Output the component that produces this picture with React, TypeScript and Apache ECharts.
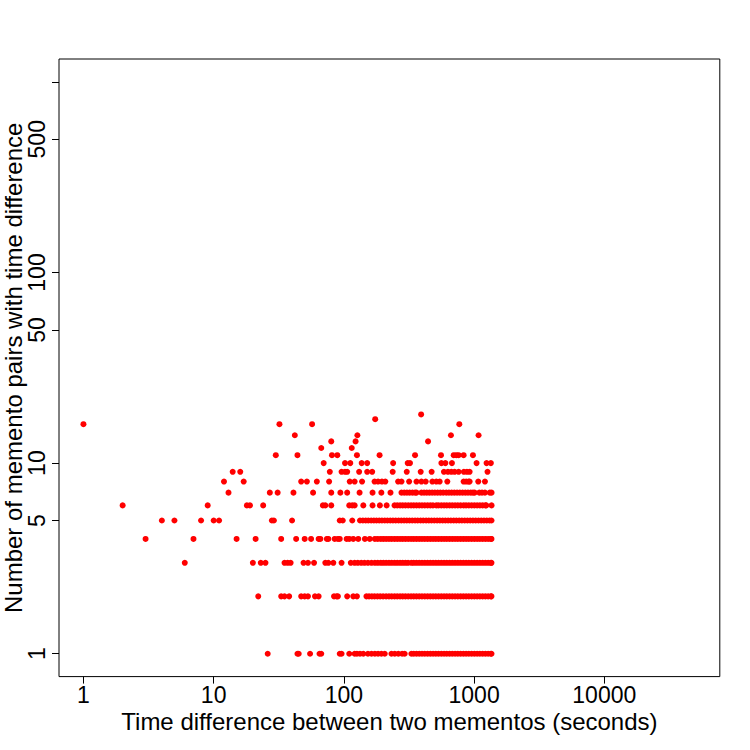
import React, { useEffect, useRef } from "react";
import * as echarts from "echarts";

// Tick positions / labels
const X_TICKS = [1, 10, 100, 1000, 10000];
const Y_TICKS = [1, 5, 10, 50, 100, 500, 1000];
const Y_LABELS = [1, 5, 10, 50, 100, 500];

// Axis limits (R style: 4% extension of xlim = c(1, 50000), ylim = c(1, 1000) in log space)
const X_MIN = 0.649;
const X_MAX = 77090;
const Y_MIN = 0.7586;
const Y_MAX = 1318.3;

// Time differences (seconds) observed for each count of memento pairs
const secsCount1 = [26, 44, 45, 55, 65, 67, 93, 96, 110, 121, 126, 133, 141, 153, 163, 173, 183, 194, 206, 232, 246, 262, 280, 293,
  330, 344, 361, 379, 398, 418, 439, 461, 484, 508, 533, 560, 588, 617, 648, 680, 714, 750, 788, 827, 868, 911, 957, 1005, 1055, 1108, 1163, 1221, 1282, 1346, 1360];
const secsCount2 = [22, 33, 35, 38, 47, 50, 53, 60, 64, 84, 88, 90, 106, 118, 126,
  149, 156, 164, 172, 181, 190, 200, 211, 222, 233, 245, 257, 270, 283, 297, 312, 328, 344, 361, 379, 398, 418, 439, 461, 484, 508, 533, 560, 588, 617, 648, 680, 714, 750, 788, 827, 868, 911, 957, 1005, 1055, 1108, 1163, 1221, 1282, 1346, 1360];
const secsCount3 = [6, 20, 23, 25, 35, 37, 39, 49, 53, 59, 72, 76, 83, 96, 113, 121, 128, 136, 144, 153, 163,
  173, 182, 192, 201, 211, 222, 233, 245, 257, 270, 283, 297, 311,
  330, 344, 361, 379, 398, 418, 439, 461, 484, 508, 533, 560, 588, 617, 648, 680, 714, 750, 788, 827, 868, 911, 957, 1005, 1055, 1108, 1163, 1221, 1282, 1346, 1360];
const secsCount4 = [3, 7, 15, 21, 33, 43, 50, 56, 64, 66, 74, 76, 85, 90, 93, 105, 110, 118, 129, 145, 158,
  173, 182, 192, 201, 211, 222, 233, 245, 257, 270, 283, 297, 312, 328, 344, 361, 379, 398, 418, 439, 461, 484, 508, 533, 560, 588, 617, 648, 680, 714, 750, 788, 827, 868, 911, 957, 1005, 1055, 1108, 1163, 1221, 1282, 1346, 1360];
const secsCount5 = [4, 5, 8, 10, 11, 28, 29, 40, 93, 98, 116,
  133, 140, 147, 154, 162, 170, 178, 187, 196, 206, 216, 227, 238, 250, 263, 276, 290, 304, 319, 335, 352, 369, 388, 407, 428, 449, 471, 495, 520, 546, 573, 602, 632, 663, 697, 731, 768, 806, 847, 889, 933, 980, 1029, 1081, 1135, 1191, 1251, 1313, 1360];
const secsCount6 = [2, 9, 18, 19, 24, 69, 72, 80, 110, 116, 121, 141, 166, 189, 213,
  245, 257, 270, 283, 297, 312, 328, 344, 361, 379, 398, 418, 439, 461, 483,
  513, 533, 560, 588, 617, 648, 680, 714, 750, 788,
  831, 868, 911, 957, 1005, 1055, 1108, 1163, 1221, 1240, 1362];
const secsCount7 = [13, 27, 31, 41, 58, 80, 94, 106, 132, 166, 194, 228,
  277, 291, 305, 320, 336, 352, 361,
  394, 413, 433, 454, 476, 500, 525, 551, 579, 611,
  641, 672, 705, 740, 777, 816, 856, 898, 943, 980, 1010,
  1097, 1150, 1211, 1320, 1362];
const secsCount8 = [12, 17, 47, 52, 62, 77, 111, 121, 138, 172, 183, 196, 208, 261, 277, 317, 361, 394, 425, 478, 513, 544, 623, 831, 870, 907, 924, 1076, 1211];
const secsCount9 = [14, 16, 78, 96, 102, 106, 131, 151, 165, 237, 304, 389, 472, 587, 630, 669, 709, 761, 835, 881, 924, 1268];
const secsCount10 = [70, 102, 112, 137, 151, 239, 309, 322, 561, 602, 676, 1045, 1247, 1345];
const secsCount11 = [30, 44, 81, 89, 126, 188, 352, 557, 697, 730, 761, 831, 980];
const secsCount12 = [67, 115];
const secsCount13 = [80, 123, 443];
const secsCount14 = [42, 127, 664, 1082];
const secsCount16 = [1, 32, 57, 770];
const secsCount17 = [174];
const secsCount18 = [392];

const PAIR_COUNTS = [1, 2, 3, 4, 5, 6, 7, 8, 9, 10, 11, 12, 13, 14, 16, 17, 18];
const SECS_BY_COUNT = [secsCount1, secsCount2, secsCount3, secsCount4, secsCount5, secsCount6, secsCount7, secsCount8,
  secsCount9, secsCount10, secsCount11, secsCount12, secsCount13, secsCount14, secsCount16, secsCount17, secsCount18];

const FONT = "'Liberation Sans', Arial, Helvetica, sans-serif";

export default function App() {
  const ref = useRef<HTMLDivElement>(null);
  useEffect(() => {
    if (!ref.current) return;
    const chart = echarts.init(ref.current, undefined, { renderer: "svg" });
    const points: number[][] = [];
    PAIR_COUNTS.forEach((c, i) => {
      SECS_BY_COUNT[i].forEach((s) => points.push([s, c]));
    });
    const fmt = (v: number) => String(Math.round(v));
    chart.setOption({
      animation: false,
      backgroundColor: "#ffffff",
      grid: {
        left: 59,
        right: 30.2,
        top: 59,
        bottom: 73.4,
        show: true,
        borderColor: "#000000",
        borderWidth: 1,
        backgroundColor: "transparent",
        containLabel: false,
        outerBoundsMode: "none",
      },
      xAxis: {
        type: "log",
        logBase: 10,
        min: X_MIN,
        max: X_MAX,
        name: "Time difference between two mementos (seconds)",
        nameLocation: "middle",
        nameGap: 33,
        nameMoveOverlap: false,
        nameTextStyle: { fontSize: 24, color: "#000", fontFamily: FONT },
        axisLine: { show: false },
        axisTick: {
          show: true,
          inside: false,
          length: 7,
          customValues: X_TICKS,
          lineStyle: { color: "#000", width: 1 },
        },
        axisLabel: {
          show: true,
          customValues: X_TICKS,
          formatter: fmt,
          fontSize: 23,
          color: "#000",
          fontFamily: FONT,
          margin: 6.5,
        },
        splitLine: { show: false },
        minorTick: { show: false },
      },
      yAxis: {
        type: "log",
        logBase: 10,
        min: Y_MIN,
        max: Y_MAX,
        name: "Number of memento pairs with time difference",
        nameLocation: "middle",
        nameGap: 34,
        nameRotate: 90,
        nameMoveOverlap: false,
        nameTextStyle: { fontSize: 24, color: "#000", fontFamily: FONT },
        axisLine: { show: false },
        axisTick: {
          show: true,
          inside: false,
          length: 7,
          customValues: Y_TICKS,
          lineStyle: { color: "#000", width: 1 },
        },
        axisLabel: {
          show: true,
          customValues: Y_LABELS,
          formatter: fmt,
          rotate: 90,
          fontSize: 23,
          color: "#000",
          fontFamily: FONT,
          margin: 11,
        },
        splitLine: { show: false },
        minorTick: { show: false },
      },
      series: [
        {
          type: "scatter",
          data: points,
          symbol: "circle",
          symbolSize: 6,
          itemStyle: { color: "#ff0000", opacity: 1 },
          emphasis: { disabled: true },
        },
      ],
    });
    return () => chart.dispose();
  }, []);
  return (
    <div
      ref={ref}
      style={{ position: "absolute", left: 0, top: 0, width: 750, height: 750 }}
    />
  );
}
